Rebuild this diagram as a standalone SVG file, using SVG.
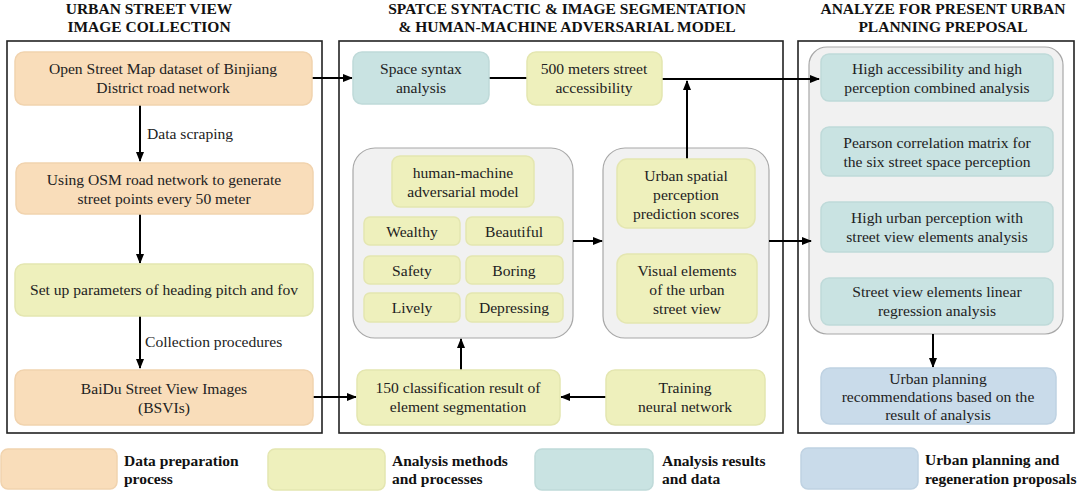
<svg xmlns="http://www.w3.org/2000/svg" width="1080" height="493" viewBox="0 0 1080 493">
<defs>
<marker id="ah" markerWidth="10" markerHeight="8" refX="9" refY="4" orient="auto" markerUnits="userSpaceOnUse">
<path d="M0,0 L10,4 L0,8 Z" fill="#000"/>
</marker>
<style>
text{font-family:"Liberation Serif","Times New Roman",serif;fill:#222;}
.t{font-size:15.6px;text-anchor:middle;}
.h{font-size:15.5px;font-weight:bold;text-anchor:middle;fill:#111;}
.lg{font-size:15.5px;font-weight:bold;fill:#111;}
.lb{font-size:15.6px;}
.panel{fill:#fff;stroke:#222;stroke-width:1.6;}
.grp{fill:#f1f1f1;stroke:#a8a8a8;stroke-width:1.2;}
.or{fill:#f9ddba;stroke:#f1d3ae;stroke-width:1.5;}
.ye{fill:#eef0bc;stroke:#e4e6b0;stroke-width:1.5;}
.te{fill:#c9e3e2;stroke:#bfdad9;stroke-width:1.5;}
.bl{fill:#c9dbea;stroke:#bfd2e2;stroke-width:1.5;}
.c{fill:none;stroke:#000;stroke-width:2;}
</style>
</defs>

<g id="titles">
<text class="h" x="149" y="14">URBAN STREET VIEW</text>
<text class="h" x="149" y="32">IMAGE COLLECTION</text>
<text class="h" x="567" y="14">SPATCE SYNTACTIC &amp; IMAGE SEGMENTATION</text>
<text class="h" x="567" y="32">&amp; HUMAN-MACHINE ADVERSARIAL MODEL</text>
<text class="h" x="943" y="14">ANALYZE FOR PRESENT URBAN</text>
<text class="h" x="943" y="32">PLANNING PREPOSAL</text>
</g>

<g id="panels">
<rect class="panel" x="7" y="41" width="315" height="392"/>
<rect class="panel" x="339" y="41" width="444" height="392"/>
<rect class="panel" x="798" y="41" width="276" height="392"/>
<rect class="grp" x="353" y="148" width="220" height="190" rx="22"/>
<rect class="grp" x="603" y="148" width="166" height="190" rx="22"/>
<rect class="grp" x="809" y="47" width="254" height="287" rx="18"/>
</g>

<g id="connectors">
<path class="c" d="M312,78 H352" marker-end="url(#ah)"/>
<path class="c" d="M489,78 H527"/>
<path class="c" d="M662,79 H819" marker-end="url(#ah)"/>
<path class="c" d="M687,159 V81" marker-end="url(#ah)"/>
<path class="c" d="M140,105 V161" marker-end="url(#ah)"/>
<path class="c" d="M140,214 V263" marker-end="url(#ah)"/>
<path class="c" d="M140,316 V368" marker-end="url(#ah)"/>
<path class="c" d="M312,397 H356" marker-end="url(#ah)"/>
<path class="c" d="M606,397 H561" marker-end="url(#ah)"/>
<path class="c" d="M461,370 V339" marker-end="url(#ah)"/>
<path class="c" d="M573,241 H602" marker-end="url(#ah)"/>
<path class="c" d="M769,241 H811" marker-end="url(#ah)"/>
<path class="c" d="M933,334 V367" marker-end="url(#ah)"/>
</g>

<g id="n-osm">
<rect class="or" x="15" y="52" width="297" height="53" rx="9"/>
<text class="t" x="163" y="74">Open Street Map dataset of Binjiang</text>
<text class="t" x="163" y="93">District road network</text>
</g>
<g id="l-scrape"><text class="lb" x="147" y="139">Data scraping</text></g>
<g id="n-points">
<rect class="or" x="16" y="163" width="297" height="51" rx="9"/>
<text class="t" x="164" y="185">Using OSM road network to generate</text>
<text class="t" x="164" y="204">street points every 50 meter</text>
</g>
<g id="n-params">
<rect class="ye" x="15" y="264" width="298" height="52" rx="9"/>
<text class="t" x="164" y="295">Set up parameters of heading pitch and fov</text>
</g>
<g id="l-collect"><text class="lb" x="145" y="347">Collection procedures</text></g>
<g id="n-bsvi">
<rect class="or" x="15" y="370" width="298" height="55" rx="9"/>
<text class="t" x="164" y="394">BaiDu Street View Images</text>
<text class="t" x="164" y="413">(BSVIs)</text>
</g>

<g id="n-syntax">
<rect class="te" x="353" y="52" width="136" height="52" rx="9"/>
<text class="t" x="421" y="74">Space syntax</text>
<text class="t" x="421" y="93">analysis</text>
</g>
<g id="n-500">
<rect class="ye" x="527" y="52" width="135" height="53" rx="9"/>
<text class="t" x="594" y="74">500 meters street</text>
<text class="t" x="594" y="93">accessibility</text>
</g>
<g id="n-hm">
<rect class="ye" x="392" y="156" width="142" height="51" rx="8"/>
<text class="t" x="463" y="178">human-machine</text>
<text class="t" x="463" y="197">adversarial model</text>
</g>
<g id="n-wealthy"><rect class="ye" x="364" y="217" width="96" height="28" rx="6"/><text class="t" x="412" y="237">Wealthy</text></g>
<g id="n-beautiful"><rect class="ye" x="466" y="217" width="97" height="28" rx="6"/><text class="t" x="514" y="237">Beautiful</text></g>
<g id="n-safety"><rect class="ye" x="364" y="256" width="96" height="28" rx="6"/><text class="t" x="412" y="276">Safety</text></g>
<g id="n-boring"><rect class="ye" x="466" y="256" width="97" height="28" rx="6"/><text class="t" x="514" y="276">Boring</text></g>
<g id="n-lively"><rect class="ye" x="364" y="293" width="96" height="29" rx="6"/><text class="t" x="412" y="313">Lively</text></g>
<g id="n-depressing"><rect class="ye" x="466" y="293" width="97" height="29" rx="6"/><text class="t" x="514" y="313">Depressing</text></g>
<g id="n-scores">
<rect class="ye" x="617" y="159" width="138" height="69" rx="10"/>
<text class="t" x="686" y="181">Urban spatial</text>
<text class="t" x="686" y="200">perception</text>
<text class="t" x="686" y="219">prediction scores</text>
</g>
<g id="n-visual">
<rect class="ye" x="617" y="254" width="140" height="69" rx="10"/>
<text class="t" x="687" y="276">Visual elements</text>
<text class="t" x="687" y="295">of the urban</text>
<text class="t" x="687" y="314">street view</text>
</g>
<g id="n-150">
<rect class="ye" x="357" y="370" width="203" height="55" rx="9"/>
<text class="t" x="458" y="393">150 classification result of</text>
<text class="t" x="458" y="412">element segmentation</text>
</g>
<g id="n-training">
<rect class="ye" x="606" y="370" width="159" height="55" rx="9"/>
<text class="t" x="685" y="393">Training</text>
<text class="t" x="685" y="412">neural network</text>
</g>

<g id="n-highacc">
<rect class="te" x="821" y="54" width="232" height="47" rx="8"/>
<text class="t" x="937" y="74">High accessibility and high</text>
<text class="t" x="937" y="93">perception combined analysis</text>
</g>
<g id="n-pearson">
<rect class="te" x="821" y="127" width="232" height="49" rx="8"/>
<text class="t" x="937" y="148">Pearson correlation matrix for</text>
<text class="t" x="937" y="167">the six street space perception</text>
</g>
<g id="n-highurban">
<rect class="te" x="821" y="202" width="232" height="50" rx="8"/>
<text class="t" x="937" y="223">High urban perception with</text>
<text class="t" x="937" y="242">street view elements analysis</text>
</g>
<g id="n-linear">
<rect class="te" x="821" y="278" width="232" height="47" rx="8"/>
<text class="t" x="937" y="297">Street view elements linear</text>
<text class="t" x="937" y="316">regression analysis</text>
</g>
<g id="n-recommend">
<rect class="bl" x="821" y="368" width="235" height="56" rx="9"/>
<text class="t" x="938" y="384">Urban planning</text>
<text class="t" x="938" y="402">recommendations based on the</text>
<text class="t" x="938" y="420">result of analysis</text>
</g>

<g id="legend">
<rect class="or" x="1" y="449" width="116" height="40" rx="7"/>
<text class="lg" x="124" y="466">Data preparation</text>
<text class="lg" x="124" y="484">process</text>
<rect class="ye" x="268" y="449" width="117" height="41" rx="7"/>
<text class="lg" x="392" y="466">Analysis methods</text>
<text class="lg" x="392" y="484">and processes</text>
<rect class="te" x="535" y="449" width="118" height="41" rx="7"/>
<text class="lg" x="662" y="466">Analysis results</text>
<text class="lg" x="662" y="484">and data</text>
<rect class="bl" x="801" y="448" width="117" height="41" rx="7"/>
<text class="lg" x="925" y="465">Urban planning and</text>
<text class="lg" x="925" y="484">regeneration proposals</text>
</g>
</svg>
